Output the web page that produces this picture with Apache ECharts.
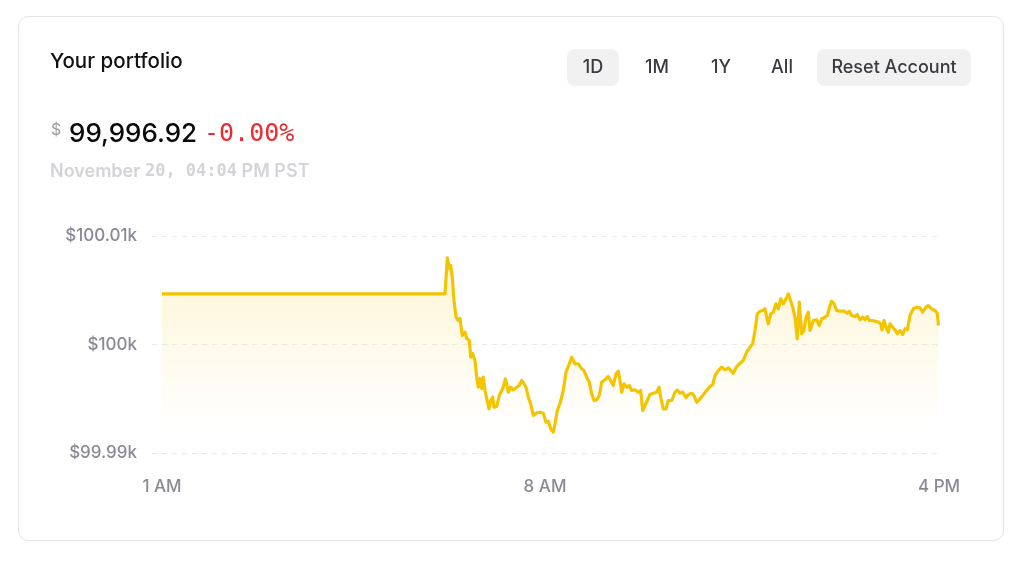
<!DOCTYPE html>
<html>
<head>
<meta charset="utf-8">
<script src="https://cdn.jsdelivr.net/npm/echarts@6/dist/echarts.min.js"></script>
<style>
html,body{margin:0;padding:0;background:#fff;}
#chart{width:1024px;height:563px;}
</style>
</head>
<body>
<div id="chart"></div>
<script>
// ---- data ----
const times = [
  0, 283, 284, 285.3, 287.3, 288.7, 290.3, 292, 294, 296.3,
  298, 300.3, 303, 304.7, 307.3, 308.7, 310.7, 313, 314.7, 316.3,
  318, 319.7, 321.3, 323, 324.7, 327, 328.7, 330.7, 332, 334.7,
  337.3, 339.7, 341.3, 343.3, 344.7, 346.3, 348.7, 351.3, 354.7, 357.3,
  359.7, 362, 364, 366.3, 368.7, 371.3, 374.7, 378, 381.3, 384,
  386.3, 388.7, 391.3, 393, 395.3, 398, 401.3, 404, 407.3, 409.7,
  413, 416.3, 419.7, 422, 424.7, 427.3, 429.7, 432, 434.7, 437.3,
  439.7, 443, 446.3, 448.7, 451.3, 454, 456.3, 458, 459.7, 462,
  464.7, 467.3, 469.7, 473, 476.3, 478.7, 480.7, 483, 485.3, 488,
  491.3, 494.7, 497, 499, 501.3, 504, 506.3, 509.7, 513, 515.3,
  518, 520.7, 524, 526.3, 529.7, 532, 534.7, 537.3, 540.7, 544,
  547.3, 550.7, 553, 556.3, 559.7, 563, 566.3, 568, 571.3, 574.7,
  578, 581.3, 584.7, 588, 590.7, 593, 595.3, 598, 600.7, 603,
  604.7, 606.3, 608.7, 611.3, 614, 616.3, 618.7, 621.3, 624, 626.3,
  628, 630.7, 633, 635.3, 637.3, 639.7, 642, 644, 646.3, 648,
  651.3, 654.7, 657.3, 659.7, 663, 665.3, 668, 669.7, 672, 674.7,
  678, 682, 685.3, 687.3, 689.7, 693, 695.3, 698, 700.7, 703,
  705.3, 707.3, 709.7, 713, 716.3, 718.7, 720, 722, 724, 726.3,
  728, 730.7, 733, 735.3, 738, 740.7, 743, 745.3, 748, 751.3,
  754.7, 758, 760.7, 764, 766.3, 769.7, 773, 775.3, 776.5
];
const values = [
  100004.67, 100004.67, 100006.08, 100007.99, 100007.00, 100007.28, 100006.20, 100004.06, 100002.52, 100002.21,
  100002.40, 100000.83, 100001.13, 100000.55, 100000.37, 99998.83, 99999.17, 99998.53, 99996.99, 99996.06,
  99996.87, 99995.94, 99996.99, 99995.76, 99995.60, 99994.07, 99994.84, 99995.14, 99994.22, 99994.29,
  99995.30, 99995.76, 99996.06, 99996.84, 99996.38, 99995.60, 99996.06, 99995.82, 99996.06, 99996.22,
  99996.68, 99996.38, 99996.06, 99995.14, 99994.53, 99993.46, 99993.71, 99993.76, 99993.67, 99992.84,
  99992.93, 99992.23, 99991.92, 99992.69, 99993.92, 99994.56, 99995.76, 99997.45, 99998.22, 99998.83,
  99998.22, 99998.22, 99997.76, 99997.60, 99996.99, 99996.53, 99995.46, 99994.84, 99994.90, 99995.30,
  99996.53, 99996.75, 99997.05, 99996.68, 99996.22, 99997.30, 99997.54, 99996.68, 99995.60, 99996.38,
  99996.06, 99996.22, 99995.76, 99995.82, 99995.60, 99995.76, 99993.92, 99994.38, 99994.84, 99995.39,
  99995.51, 99995.60, 99996.06, 99995.00, 99994.07, 99994.07, 99994.84, 99994.84, 99995.60, 99995.82,
  99995.51, 99995.60, 99995.09, 99995.39, 99995.51, 99995.30, 99994.68, 99994.90, 99995.30, 99995.70,
  99996.06, 99996.31, 99997.14, 99997.60, 99997.91, 99997.67, 99997.85, 99997.85, 99997.35, 99997.97,
  99998.28, 99998.53, 99999.29, 99999.75, 100000.06, 100001.29, 100002.83, 100003.07, 100003.13, 100003.29,
  100002.52, 100001.91, 100002.83, 100002.98, 100003.75, 100003.29, 100004.21, 100003.75, 100004.21, 100004.67,
  100004.21, 100003.44, 100002.52, 100000.53, 100003.90, 100000.99, 100001.29, 100002.52, 100002.98, 100001.29,
  100002.21, 100002.28, 100001.75, 100002.37, 100002.52, 100002.67, 100003.59, 100003.99, 100003.75, 100003.13,
  100003.07, 100003.07, 100002.88, 100003.07, 100002.67, 100002.58, 100002.76, 100002.28, 100002.52, 100002.28,
  100002.58, 100002.21, 100002.21, 100002.15, 100002.06, 100001.91, 100001.35, 100002.21, 100001.59, 100001.13,
  100001.91, 100001.59, 100001.35, 100000.99, 100001.29, 100000.92, 100001.45, 100001.35, 100002.67, 100003.29,
  100003.44, 100003.38, 100002.98, 100003.44, 100003.59, 100003.29, 100003.13, 100002.88, 100001.75
];
const xTickValues = [0, 383, 777];
const xTickLabels = ['1 AM', '8 AM', '4 PM'];
const yTickValues = [99990, 100000, 100010];
const yTickLabels = ['$99.99k', '$100k', '$100.01k'];
const rangeButtons = ['1D', '1M', '1Y', 'All'];

const seriesData = times.map((t, i) => [t, values[i]]);

const SANS = 'Inter, "Noto Sans", sans-serif';
const MONO = '"DejaVu Sans Mono", "Liberation Mono", monospace';

const chart = echarts.init(document.getElementById('chart'), null, {renderer: 'canvas'});

const btnCenters = [593, 657, 721, 782];
const graphics = [
  {type: 'rect', z: -10, silent: true,
   shape: {x: 18.5, y: 16.5, width: 985, height: 524, r: 10},
   style: {fill: '#ffffff', stroke: '#e4e4e7', lineWidth: 1}},
  {type: 'text', style: {x: 50, y: 62, text: 'Your portfolio', fill: '#111111',
   fontFamily: SANS, fontSize: 20.5, fontWeight: 500, verticalAlign: 'middle'}},
  {type: 'text', style: {x: 51, y: 130, text: '$', fill: '#9a9aa4',
   fontFamily: SANS, fontSize: 16, fontWeight: 400, verticalAlign: 'middle'}},
  {type: 'text', style: {x: 69, y: 134, text: '99,996.92', fill: '#0a0a0a',
   fontFamily: SANS, fontSize: 26, fontWeight: 500, verticalAlign: 'middle'}},
  {type: 'text', style: {x: 204, y: 134, text: '-0.00%', fill: '#ee2a2d',
   fontFamily: MONO, fontSize: 25, fontWeight: 400, verticalAlign: 'middle'}},
  {type: 'text', style: {x: 50, y: 172,
   text: '{a|November }{b|20, 04:04}{a| PM PST}',
   verticalAlign: 'middle',
   rich: {
     a: {fontFamily: SANS, fontSize: 18, fontWeight: 600, fill: '#d4d4d8', color: '#d4d4d8'},
     b: {fontFamily: MONO, fontSize: 17, fontWeight: 700, fill: '#d4d4d8', color: '#d4d4d8'}
   }}},
  {type: 'rect', silent: true, shape: {x: 567, y: 49, width: 52, height: 37, r: 8},
   style: {fill: '#f1f1f2'}},
  {type: 'rect', silent: true, shape: {x: 817, y: 49, width: 154, height: 37, r: 8},
   style: {fill: '#f1f1f2'}},
  {type: 'text', style: {x: 894, y: 68, text: 'Reset Account', fill: '#3a3a40',
   fontFamily: SANS, fontSize: 18, fontWeight: 500, align: 'center', verticalAlign: 'middle'}}
];
rangeButtons.forEach((b, i) => {
  graphics.push({type: 'text', style: {x: btnCenters[i], y: 68, text: b, fill: '#3a3a40',
    fontFamily: SANS, fontSize: 18, fontWeight: 500, align: 'center', verticalAlign: 'middle'}});
});

chart.setOption({
  animation: false,
  backgroundColor: '#ffffff',
  graphic: graphics,
  grid: {left: 152, right: 85, top: 236, bottom: 110},
  xAxis: {
    type: 'value', min: -10, max: 777,
    axisLine: {show: false}, axisTick: {show: false}, splitLine: {show: false},
    axisLabel: {
      customValues: xTickValues,
      margin: 25,
      color: '#8a8a94', fontFamily: SANS, fontSize: 17, fontWeight: 500,
      formatter: v => { const i = xTickValues.indexOf(v); return i >= 0 ? xTickLabels[i] : ''; }
    }
  },
  yAxis: {
    type: 'value', min: 99990, max: 100010, interval: 10,
    axisLine: {show: false}, axisTick: {show: false},
    splitLine: {show: true, lineStyle: {color: '#e9e9ec', type: [5, 5], width: 1}},
    axisLabel: {
      margin: 15,
      color: '#8a8a94', fontFamily: SANS, fontSize: 17, fontWeight: 500,
      formatter: v => { const i = yTickValues.indexOf(v); return i >= 0 ? yTickLabels[i] : ''; }
    }
  },
  series: [{
    type: 'line',
    data: seriesData,
    showSymbol: false,
    symbol: 'none',
    lineStyle: {color: '#f5c400', width: 3.2, join: 'round'},
    areaStyle: {
      origin: 'start',
      color: new echarts.graphic.LinearGradient(0, 0, 0, 1, [
        {offset: 0, color: 'rgba(247,198,0,0.24)'},
        {offset: 0.88, color: 'rgba(247,198,0,0)'},
        {offset: 1, color: 'rgba(247,198,0,0)'}
      ])
    }
  }]
});
</script>
</body>
</html>
